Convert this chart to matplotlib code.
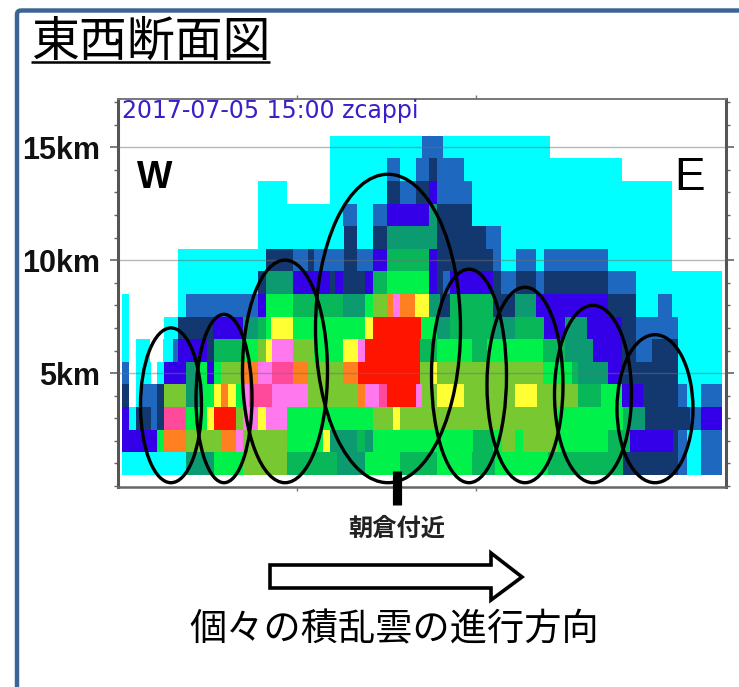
import matplotlib
matplotlib.use("Agg")
import matplotlib.pyplot as plt
from matplotlib.patches import Ellipse, Polygon, FancyBboxPatch
from matplotlib.ticker import MultipleLocator

JP = ["Noto Sans CJK JP", "DejaVu Sans"]
LAT = ["Liberation Sans", "DejaVu Sans"]

palette = {
    "c": "#00ffff", "b": "#1f68c0", "n": "#12386f", "v": "#3300e8",
    "t": "#0c9a70", "d": "#08b858", "g": "#00f24a", "l": "#78c832",
    "y": "#ffff33", "o": "#ff8020", "p": "#ff78ee", "m": "#ff4a9c",
    "r": "#ff1400",
}

# Each height level (km): section edges along the W-E axis and echo class per section
row_01_edges = [122,186,214,243,287,337,365,400,437,472,495,548,623,678,687,701,722]
row_01_class = "ctgldtgdgdgdnbcb"
row_02_edges = [122,157,164,186,221,236,243,287,323,330,357,365,373,473,493,502,515,523,558,608,630,673,678,687,701,722]
row_02_class = "vgolopl" + "gytdtgdglglgdvnbcb"
row_03_edges = [122,129,136,151,157,164,186,207,214,236,243,258,266,287,373,393,400,558,623,630,645,690,701,722]
row_03_class = "vcnbnmgyrlpypglylgdtnbv"
row_04_edges = [122,129,136,142,157,164,186,203,214,221,228,236,243,249,272,308,358,365,379,387,416,422,437,464,515,537,578,601,622,643,678,687,701,722]
row_04_class = "n_cbnltgyoygpmplopmrplylyldgvnbcb"
row_05_edges = [122,129,136,151,157,164,186,198,207,214,221,243,258,272,293,308,343,358,420,433,437,543,572,578,608,622,678,722]
row_05_class = "b_c_cvtgvglopmolorlylgdtvnc"
row_06_edges = [122,129,136,150,163,173,178,207,214,243,258,266,272,293,314,343,358,365,420,437,472,487,543,565,593,622,636,652,678,722]
row_06_class = "c_c_cbvndglyplgyprdgdgdtvnbnc"
row_07_edges = [122,129,164,178,213,243,258,266,271,293,365,373,421,437,450,493,515,544,565,587,622,636,678,722]
row_07_class = "c_cnvtdgygyrgtdtdvtvnbc"
row_08_edges = [122,129,178,186,258,266,293,343,365,373,387,393,400,415,429,440,450,493,515,536,608,636,658,672,722]
row_08_class = "c_cbvgdtglopoytndntvncbc"
row_09_edges = [178,258,266,293,330,335,343,365,373,387,429,437,443,450,493,501,516,536,544,608,636,722]
row_09_class = "cntvnvnvdgvnbvnbnbnbc"
row_10_edges = [178,266,293,308,314,344,357,373,387,429,437,493,501,516,536,544,608,672]
row_10_class = "cnbnbnbvdvnbcbcbc"
row_11_edges = [258,344,357,373,387,437,486,501,672]
row_11_class = "cncntnbc"
row_12_edges = [258,343,357,373,387,429,437,472,672]
row_12_class = "cbcbvtnc"
row_13_edges = [258,287,330,387,400,416,429,437,472,672]
row_13_class = "c_cnbnvbc"
row_14_edges = [330,387,400,416,429,437,464,622]
row_14_class = "cbcbnbc"
row_15_edges = [330,422,443,550]
row_15_class = "cbc"

levels = [
    (1, row_01_edges, row_01_class), (2, row_02_edges, row_02_class),
    (3, row_03_edges, row_03_class), (4, row_04_edges, row_04_class),
    (5, row_05_edges, row_05_class), (6, row_06_edges, row_06_class),
    (7, row_07_edges, row_07_class), (8, row_08_edges, row_08_class),
    (9, row_09_edges, row_09_class), (10, row_10_edges, row_10_class),
    (11, row_11_edges, row_11_class), (12, row_12_edges, row_12_class),
    (13, row_13_edges, row_13_class), (14, row_14_edges, row_14_class),
    (15, row_15_edges, row_15_class),
]

# Cumulonimbus outlines: centre along axis, widths, top and bottom heights (km)
cloud_x = [171, 224, 285, 388, 469, 525, 593, 655]
cloud_w = [61, 56, 85, 145, 75, 76, 77, 76]
cloud_top = [7.0, 7.6, 10.0, 13.8, 9.6, 8.8, 8.0, 6.7]
cloud_bot = [0.15] * 8

y_major = [5, 10, 15]
y_labels = ["5km", "10km", "15km"]
x_ticks = [297, 476]

W, H = 739, 687
fig = plt.figure(figsize=(W / 100, H / 100), dpi=100, facecolor="white")

ax = fig.add_axes([118 / W, (H - 487) / H, (726 - 118) / W, (487 - 99) / H])
ax.set_xlim(118, 726)
ax.set_ylim(-0.04, 17.13)

for km, edges, classes in levels:
    for i, code in enumerate(classes):
        if code == "_":
            continue
        ax.barh(km, edges[i + 1] - edges[i], left=edges[i], height=1.0,
                color=palette[code], linewidth=0, antialiased=False, zorder=2)

for v in y_major:
    ax.axhline(v, color="#707070", lw=1.0, alpha=0.5, zorder=3)

ax.yaxis.set_minor_locator(MultipleLocator(1))
ax.set_yticks(y_major)
ax.set_yticklabels(y_labels, family=LAT, weight="bold", fontsize=22, color="#111111")
ax.tick_params(axis="y", which="major", length=6, width=1.2, color="#666666", pad=7, right=True, direction="out")
ax.tick_params(axis="y", which="minor", length=3, width=1.0, color="#666666", right=True)
ax.set_xticks(x_ticks)
ax.set_xticklabels([])
ax.tick_params(axis="x", length=3, width=1.0, color="#777777", top=True)
for side, lw, col in (("left", 2.2, "#555555"), ("bottom", 1.8, "#666666"),
                      ("right", 2.2, "#555555"), ("top", 1.4, "#777777")):
    ax.spines[side].set_linewidth(lw)
    ax.spines[side].set_color(col)

for x, w, top, bot in zip(cloud_x, cloud_w, cloud_top, cloud_bot):
    ax.add_patch(Ellipse((x, (top + bot) / 2), w, top - bot, fill=False,
                         edgecolor="black", lw=2.4, zorder=5, clip_on=False))

ax.text(122, 16.6, "2017-07-05 15:00 zcappi", family="DejaVu Sans", fontsize=17,
        color="#3a1fc8", ha="left", va="center", zorder=6)
ax.text(155, 13.65, "W", family=LAT, weight="bold", fontsize=27, ha="center", va="center", zorder=6)
ax.text(690, 13.65, "E", family=LAT, fontsize=33, ha="center", va="center", zorder=6)

# Overlay in pixel coordinates for the slide decoration
ov = fig.add_axes([0, 0, 1, 1], facecolor="none")
ov.set_xlim(0, W)
ov.set_ylim(H, 0)
ov.axis("off")

ov.add_patch(FancyBboxPatch((17, 10.5), 800, 800, boxstyle="round,pad=0,rounding_size=4",
                            fill=False, edgecolor="#3d6594", lw=3.2, clip_on=True))
ov.text(151, 42, "東西断面図", family=JP, fontsize=34.5, ha="center", va="center", color="black")
ov.plot([31, 270], [62, 62], color="black", lw=1.8, solid_capstyle="butt")

ov.plot([396.5, 396.5], [471, 505], color="black", lw=6.6, solid_capstyle="butt", zorder=7)
ov.text(397, 529, "朝倉付近", family=JP, weight="bold", fontsize=17.5, ha="center", va="center", color="#222222")

ov.add_patch(Polygon([(270, 565), (491, 565), (491, 553), (522, 577), (491, 600), (491, 588), (270, 588)],
                     closed=True, facecolor="white", edgecolor="black", lw=2.6, joinstyle="miter"))
ov.text(394, 630, "個々の積乱雲の進行方向", family=JP, fontsize=26.8, ha="center", va="center", color="black")

fig.savefig("out.png", dpi=100, facecolor="white")
